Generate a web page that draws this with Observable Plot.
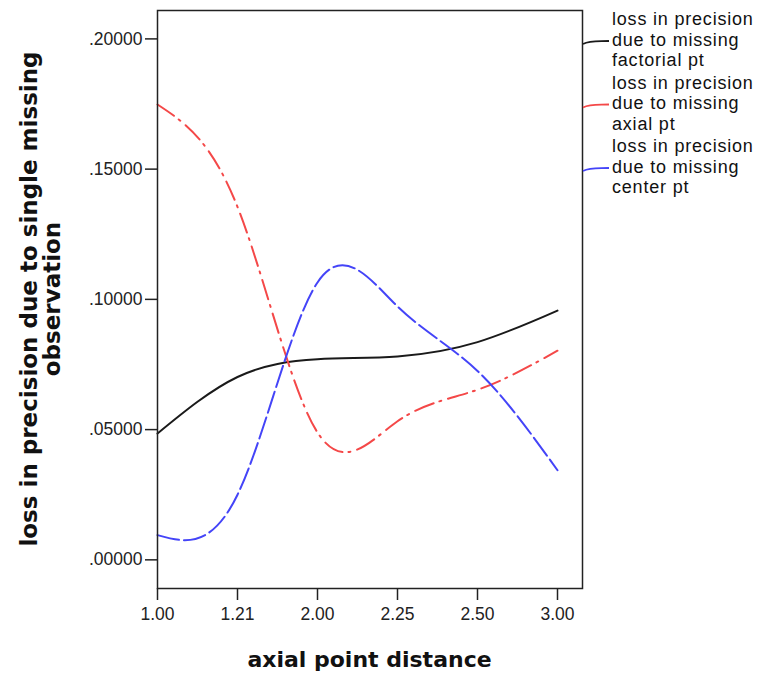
<!DOCTYPE html>
<html>
<head>
<meta charset="utf-8">
<script src="https://cdn.jsdelivr.net/npm/d3@7"></script>
<script src="https://cdn.jsdelivr.net/npm/@observablehq/plot@0.6"></script>
<style>
  html, body { margin: 0; padding: 0; background: #fff; }
  #chart { width: 760px; height: 677px; }
</style>
</head>
<body>
<div id="chart"></div>
<script>
// x categories (equally spaced ordinal positions)
const xLabels = ["1.00", "1.21", "2.00", "2.25", "2.50", "3.00"];
// series values
const factorialPt = [0.0485, 0.0702, 0.0770, 0.0781, 0.0836, 0.0957];
const axialPt     = [0.1748, 0.1355, 0.0489, 0.0532, 0.0653, 0.0803];
const centerPt    = [0.0095, 0.0250, 0.1065, 0.0973, 0.0725, 0.0344];
const yTicks = [0, 0.05, 0.10, 0.15, 0.20];
const seriesNames = [
  ["loss in precision", "due to missing", "factorial pt"],
  ["loss in precision", "due to missing", "axial pt"],
  ["loss in precision", "due to missing", "center pt"]
];
const xTitle = "axial point distance";
const yTitle = ["loss in precision due to single missing", "observation"];

const colors = ["#1a1a1a", "#f44848", "#4444f8"];
const dashes = [null, "20,6,2,7", "22,5"];

const series = [factorialPt, axialPt, centerPt];
const data = series.map(vals => vals.map((v, i) => ({i, v})));

const fmt = d => d3.format(".5f")(d).replace(/^0/, "");

const plot = Plot.plot({
  width: 760,
  height: 677,
  marginLeft: 157,
  marginRight: 178,
  marginTop: 10,
  marginBottom: 89,
  style: {fontFamily: "'Liberation Sans', Arial, sans-serif", fontSize: "17px", color: "#222", background: "#fff"},
  x: {domain: [0, 5.3125]},
  y: {domain: [-0.0110, 0.2109]},
  marks: [
    Plot.axisY({ticks: yTicks, tickFormat: fmt, tickSize: 12, tickPadding: 3, fontSize: 17.5, label: null, stroke: "#222", strokeWidth: 1.5}),
    Plot.axisX({ticks: d3.range(xLabels.length), tickFormat: i => xLabels[i], tickSize: 12, tickPadding: 7, fontSize: 17.5, label: null, stroke: "#222", strokeWidth: 1.5}),
    ...data.map((d, k) => Plot.line(d, {
      x: "i", y: "v", curve: "natural",
      stroke: colors[k], strokeWidth: 2,
      strokeDasharray: dashes[k]
    })),
    Plot.frame({stroke: "#222", strokeWidth: 1.5})
  ]
});

document.getElementById("chart").appendChild(plot);

const svg = d3.select(plot);
// x title
svg.append("text")
  .attr("x", 369.5).attr("y", 667)
  .attr("text-anchor", "middle")
  .attr("font-family", "'DejaVu Sans', sans-serif")
  .attr("font-weight", "bold").attr("font-size", 22).attr("fill", "#111")
  .text(xTitle);
// y title
const yt = svg.append("text")
  .attr("transform", "translate(37,299) rotate(-90)")
  .attr("text-anchor", "middle")
  .attr("font-family", "'DejaVu Sans', sans-serif")
  .attr("font-weight", "bold").attr("font-size", 23).attr("fill", "#111");
yTitle.forEach((t, j) => yt.append("tspan").attr("x", 0).attr("dy", j === 0 ? 0 : 23).text(t));

// legend
const blockTop = [25, 88.5, 152];
seriesNames.forEach((lines, k) => {
  const ly = blockTop[k] + 17.5;
  svg.append("path")
    .attr("d", `M583,${ly + 1.5} C590,${ly - 2} 598,${ly - 1} 609,${ly - 1.5}`)
    .attr("fill", "none").attr("stroke", colors[k]).attr("stroke-width", 1.8);
  const t = svg.append("text")
    .attr("text-anchor", "start")
    .attr("font-family", "'Liberation Sans', Arial, sans-serif")
    .attr("font-size", 18).attr("letter-spacing", 0.8).attr("fill", "#111");
  lines.forEach((s, j) => t.append("tspan").attr("x", 612).attr("y", blockTop[k] + j * 20.7).text(s));
});
</script>
</body>
</html>
